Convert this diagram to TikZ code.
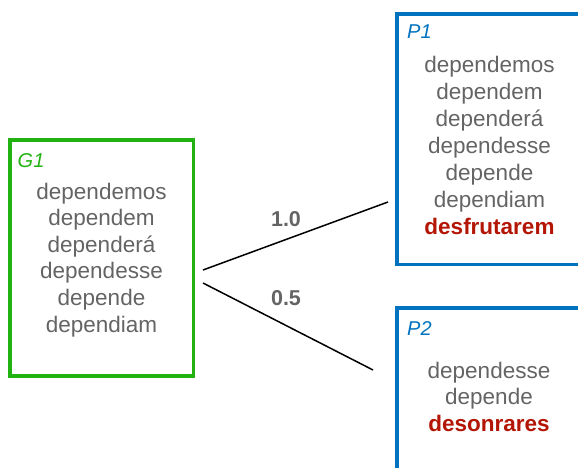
\documentclass[tikz,border=0pt]{standalone}
\usepackage{fontspec}
\setmainfont{Liberation Sans}
\definecolor{boxgreen}{RGB}{34,178,18}
\definecolor{boxblue}{RGB}{0,114,190}
\definecolor{wordgray}{RGB}{100,100,100}
\definecolor{newred}{RGB}{180,22,6}
\tikzset{
  frame/.style={draw, inner sep=0pt},
  title/.style={anchor=base west, inner sep=0pt, font=\fontsize{20}{24}\selectfont\itshape},
  word/.style={anchor=base, inner sep=0pt, text=wordgray, font=\fontsize{22.5}{27}\selectfont},
  novel/.style={anchor=base, inner sep=0pt, text=newred, font=\fontsize{22.5}{27}\selectfont\bfseries},
  weight/.style={anchor=base, inner sep=0pt, text=wordgray, font=\fontsize{21.5}{26}\selectfont\bfseries},
  link/.style={line width=1.5pt, black}
}
\begin{document}
\begin{tikzpicture}[x=1pt, y=-1pt]
\useasboundingbox (0,0) rectangle (578,468);
\clip (0,0) rectangle (578,468);

% group box and its members
\draw[frame, boxgreen, line width=3.2pt] (10,140) rectangle (193.5,376);
\node[title, text=boxgreen] (G1) at (17.5,167) {G1};
\foreach \w [count=\i from 0] in {dependemos,dependem,dependerá,dependesse,depende,dependiam}
  \node[word] (g\i) at (101.5,199+26.6*\i) {\w};

% first predicted box
\draw[frame, boxblue, line width=3.8pt] (397,13.7) rectangle (582,264.5);
\node[title, text=boxblue] (P1) at (407,39) {P1};
\foreach \w [count=\i from 0] in {dependemos,dependem,dependerá,dependesse,depende,dependiam}
  \node[word] (p\i) at (489.5,73+26.8*\i) {\w};
\node[novel] (pn) at (489.5,234.8) {desfrutarem};

% second predicted box
\draw[frame, boxblue, line width=3.8pt] (397,308) rectangle (582,490);
\node[title, text=boxblue] (P2) at (407,335) {P2};
\node[word] (q0) at (489,378) {dependesse};
\node[word] (q1) at (489,404) {depende};
\node[novel] (qn) at (489,431) {desonrares};

% weighted links
\coordinate (a1) at (203,270);
\coordinate (b1) at (388,202);
\coordinate (a2) at (203,283);
\coordinate (b2) at (373,370);
\draw[link] (a1) -- (b1);
\draw[link] (a2) -- (b2);
\node[weight] (w1) at (286,226) {1.0};
\node[weight] (w2) at (286,305) {0.5};
\end{tikzpicture}
\end{document}
